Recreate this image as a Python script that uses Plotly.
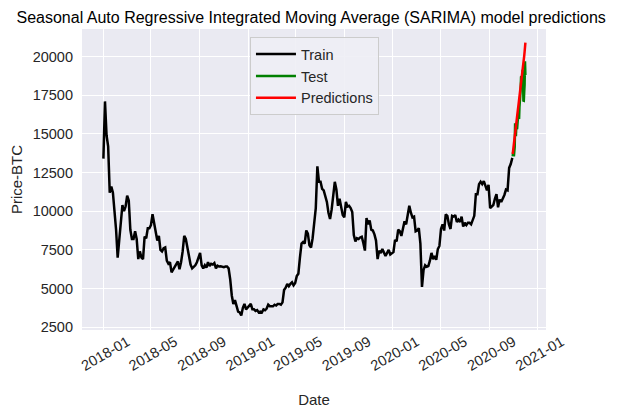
import plotly.graph_objects as go
import pandas as pd

train_start = "2018-01-01"
train_values = [
    # 2018
    13400, 17100, 14900, 14200, 11200, 11600, 11200, 10100, 8800, 7000,
    8100, 9500, 10400, 10000, 10300, 11000, 10700, 8800, 8200, 8200,
    8700, 8200, 6900, 7400, 7000, 6900, 8350, 8250, 8900, 8900,
    9100, 9800, 9300, 8700, 8100, 8400, 7500, 7400, 7600, 7650,
    6800, 6600, 6700, 6050, 6250, 6400, 6600, 6750, 6250, 6700,
    7400, 8400, 8200, 7600, 7000, 6550, 6300, 6400, 6500, 6700,
    7050, 7300, 6500, 6300, 6500, 6350, 6700, 6450, 6600, 6550,
    6650, 6300, 6480, 6420, 6430, 6400, 6380, 6420, 6420, 6300,
    5600, 4550, 4000, 4250, 3850, 3500, 3450, 3250, 3750, 4000,
    3650, 3750,
    # 2019
    3850, 4000, 3650, 3650, 3550, 3600, 3450, 3500, 3450, 3650,
    3600, 3700, 3950, 3850, 3850, 3850, 3950, 3900, 4000, 4000,
    3950, 4100, 4900, 5050, 5300, 5150, 5300, 5400, 5200, 5350,
    5800, 5950, 7000, 7900, 8000, 7900, 8750, 8550, 7800, 7650,
    8250, 9300, 10200, 12900, 11900, 11900, 11450, 11350, 10900, 10600,
    9900, 9500, 10100, 10850, 11900, 11400, 10350, 10800, 10150, 9750,
    9600, 10600, 10300, 10350, 10200, 9950, 8450, 8050, 8250, 8200,
    8300, 8350, 7950, 7450, 9550, 9150, 9400, 8800, 8750, 8500,
    8100, 6900, 7450, 7300, 7550, 7250, 7100, 7300, 7500, 7200,
    7250,
    # 2020
    7350, 8150, 8050, 8800, 8700, 8400, 8900, 9350, 9150, 9900,
    10350, 9900, 9600, 9650, 8700, 8750, 8900, 7900, 5100, 6200,
    6500, 6400, 6450, 6800, 7300, 6900, 7100, 6850, 7550, 7750,
    8850, 9150, 8750, 9800, 9700, 9150, 8850, 9700, 9650, 9750,
    9300, 9450, 9300, 9650, 9000, 9250, 9100, 9250, 9250, 9150,
    9400, 9700, 11100, 11100, 11750, 11900, 11750, 11950, 11650, 11350,
    11700, 10200, 10300, 10400, 10800, 11100, 10250, 10750, 10600, 10800,
    11050, 11400, 11350, 12800, 13050, 13450,
]

# daily test period
test_start = "2020-10-30"
test_values = [
    13550, 13800, 13750, 13550, 14000, 14150, 15600, 15600, 14850, 15480,
    15330, 15300, 15700, 16300, 16330, 16070, 15960, 16730, 17680, 17800,
    17820, 18680, 18700, 18420, 18370, 19150, 18730, 17150, 17140, 17720,
    18180, 19700, 18800,
]
pred_values = [
    13700, 13950, 14150, 14350, 14600, 14800, 15000, 15250, 15450, 15650,
    15900, 16100, 16300, 16550, 16750, 16950, 17200, 17400, 17600, 17850,
    18050, 18250, 18500, 18700, 18900, 19150, 19350, 19550, 19800, 20050,
    20300, 20600, 20900,
]

y_ticks = [2500, 5000, 7500, 10000, 12500, 15000, 17500, 20000]
x_ticks = ["2018-01-01", "2018-05-01", "2018-09-01", "2019-01-01", "2019-05-01",
           "2019-09-01", "2020-01-01", "2020-05-01", "2020-09-01", "2021-01-01"]

train_dates = pd.date_range(train_start, periods=len(train_values), freq="4D")
test_dates = pd.date_range(test_start, periods=len(test_values), freq="D")

fig = go.Figure()
fig.add_trace(go.Scatter(x=train_dates, y=train_values, mode="lines", name="Train",
                         line={"color": "black", "width": 2.5}))
fig.add_trace(go.Scatter(x=test_dates, y=test_values, mode="lines", name="Test",
                         line={"color": "green", "width": 2.5}))
fig.add_trace(go.Scatter(x=test_dates, y=pred_values, mode="lines", name="Predictions",
                         line={"color": "red", "width": 2.5}))

# page body has an 8px margin, so the figure is a bit smaller than the window
fig.update_layout(
    width=615, height=401,
    paper_bgcolor="white",
    plot_bgcolor="#EAEAF2",
    font={"family": "Liberation Sans, Arial", "color": "#262626", "size": 14.5},
    margin={"l": 74, "r": 77, "t": 21, "b": 79},
    title={"text": "Seasonal Auto Regressive Integrated Moving Average (SARIMA) model predictions",
           "font": {"size": 16, "color": "black"}, "x": 0.493, "xanchor": "center",
           "y": 0.976, "yanchor": "middle"},
    xaxis={"range": ["2017-11-08", "2021-01-22"], "tickvals": x_ticks, "automargin": False,
           "tickformat": "%Y-%m", "tickangle": -30, "ticklabelshift": 24,
           "gridcolor": "white", "gridwidth": 1.3, "showline": False, "zeroline": False,
           "tickfont": {"size": 14.5},
           "title": {"text": "Date", "font": {"size": 15}, "standoff": 21}},
    yaxis={"range": [2315, 21785], "tickvals": y_ticks, "tickformat": "d",
           "ticklabelstandoff": 8, "automargin": False,
           "gridcolor": "white", "gridwidth": 1.3, "showline": False, "zeroline": False,
           "tickfont": {"size": 14.5},
           "title": {"text": "Price-BTC", "font": {"size": 15}, "standoff": 17}},
    legend={"x": 0.362, "y": 0.973, "xanchor": "left", "yanchor": "top",
            "bgcolor": "rgba(238,238,245,0.9)", "bordercolor": "#CCCCCC", "borderwidth": 1,
            "font": {"size": 14.5, "color": "#262626"}, "itemwidth": 40},
)

fig.write_html("out.html")
